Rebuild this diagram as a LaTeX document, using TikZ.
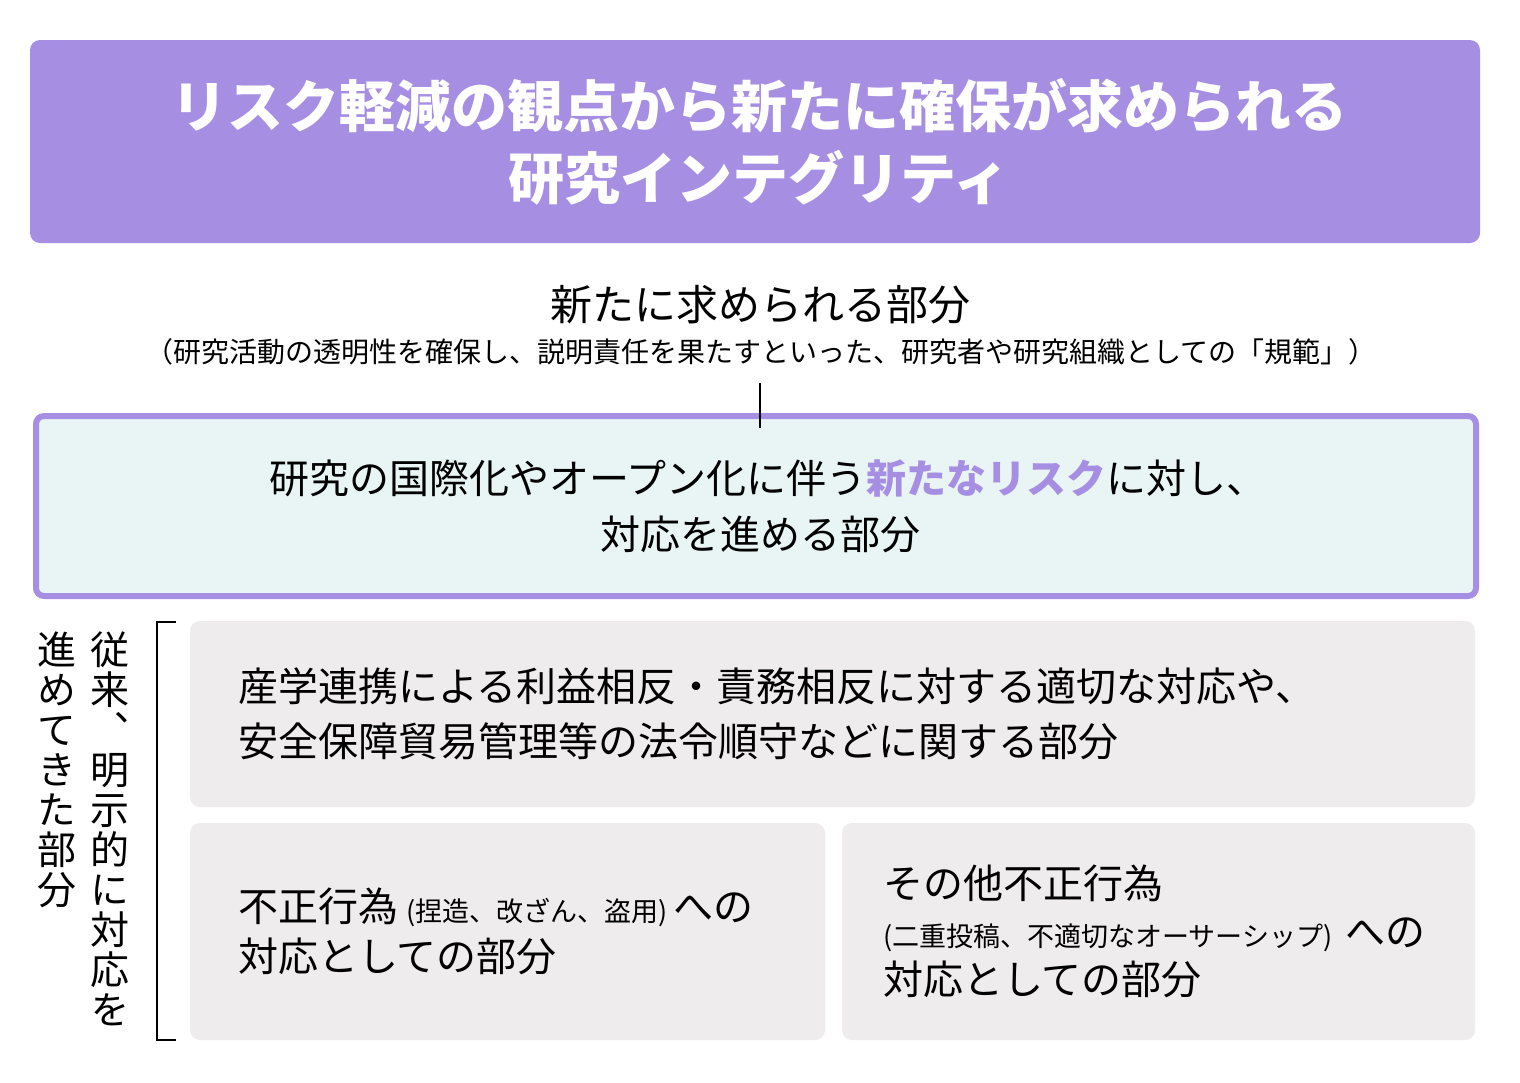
\documentclass[tikz,border=0pt]{standalone}
\usepackage{fontspec}
\setmainfont{Noto Sans CJK JP}
\newfontfamily\vertjp[Vertical=Alternates]{Noto Sans CJK JP}
\usetikzlibrary{positioning}
\definecolor{titlepurple}{RGB}{166,143,227}
\definecolor{riskfill}{RGB}{233,245,245}
\definecolor{partgray}{RGB}{238,236,237}
\newcommand\subnote[1]{{\fontsize{27}{30}\selectfont #1}}

\begin{document}
\begin{tikzpicture}[x=1pt,y=-1pt,
    titlebox/.style={fill=titlepurple,rounded corners=10pt,minimum width=1450pt,minimum height=203pt},
    titletext/.style={text=white,align=center,font=\bfseries\fontsize{56}{72}\selectfont},
    riskbox/.style={draw=titlepurple,line width=6pt,fill=riskfill,rounded corners=8pt,
        minimum width=1440pt,minimum height=180pt},
    risktext/.style={align=center,font=\fontsize{40}{56}\selectfont},
    graybox/.style={fill=partgray,rounded corners=10pt,align=left,inner ysep=0pt,
        font=\fontsize{40}{55}\selectfont,minimum height=217pt},
    vcol/.style={font=\vertjp\fontsize{39}{40}\selectfont,align=center,anchor=north,inner sep=0pt},
    stemline/.style={line width=2.5pt}]
    \fill[white] (0,0) rectangle (1520,1082);
    \useasboundingbox (0,0) rectangle (1520,1082);
    % title
    \node[titlebox] (title) at (755,141.5) {};
    \node[titletext] (titlelabel) at ([xshift=4pt]title.center) {リスク軽減の観点から新たに確保が求められる\\研究インテグリティ};
    % new part
    \node[font=\fontsize{42}{50}\selectfont] (newpart) at (760,305) {新たに求められる部分};
    \node[font=\fontsize{28}{32}\selectfont] (norm) at (761,352) {（研究活動の透明性を確保し、説明責任を果たすといった、研究者や研究組織としての「規範」）};
    \node[riskbox] (risk) at (756,506) {};
    \node[risktext] (risklabel) at ([xshift=4pt]risk.center) {\hspace{16pt}研究の国際化やオープン化に伴う{\color{titlepurple}\bfseries 新たなリスク}に対し、\\対応を進める部分};
    \coordinate (stem) at (760,383);
    \draw[stemline] (stem) -- (stem |- risk.north) -- ++(0,15);
    % existing parts
    \node[graybox,minimum width=1285pt,minimum height=186pt,text width=1189pt,inner xsep=48pt] (ties) at (832.5,714)
        {産学連携による利益相反・責務相反に対する適切な対応や、\\安全保障貿易管理等の法令順守などに関する部分};
    \node[graybox,minimum width=635pt,text width=539pt,inner xsep=48pt,font=\fontsize{40}{50}\selectfont] (misconduct) at (507.5,931.5)
        {不正行為\hspace{8pt}\subnote{(捏造、改ざん、盗用)}\hspace{6pt}への\\対応としての部分};
    \node[graybox,minimum width=633pt,text width=551pt,inner xsep=41pt,font=\fontsize{40}{48}\selectfont] (othermis) at (1158.5,931.5)
        {その他不正行為\\\subnote{(二重投稿、不適切なオーサーシップ)}~への\\対応としての部分};
    \draw[stemline] (176,622) -- (157,622) -- (157,1040) -- (176,1040);
    \node[vcol] (since) at (110,632) {従\\来\\、\\明\\示\\的\\に\\対\\応\\を};
    \node[vcol] (done) at (57,632) {進\\め\\て\\き\\た\\部\\分};
\end{tikzpicture}
\end{document}
